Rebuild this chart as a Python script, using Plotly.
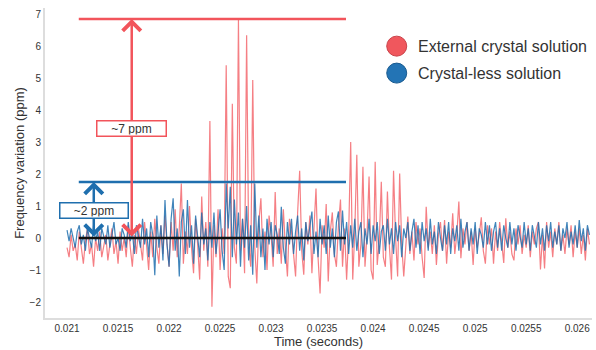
import numpy as np
import plotly.graph_objects as go

# ---------------- data ----------------
T0 = 0.021
DT = 0.00002

red_values = [
    -0.3, -0.6, 0.1, -0.4, -0.2, -0.7, 0.2, -0.3, -0.8, -0.1,
    0.3, -0.5, -0.2, -0.9, 0.0, -0.4, 0.2, -0.6, -0.3, 0.1,
    -0.7, -0.2, 0.3, -0.5, -0.1, -0.8, 0.2, -0.4, 0.0, -0.6,
    0.4, -0.3, -0.9, 0.1, -0.5, 0.3, -0.2, -0.7, 0.5, -0.4,
    -1.0, 0.2, -0.6, 0.6, -0.3, -0.8, 0.4, -0.5, 0.7, -0.2,
    -0.9, 0.5, -0.4, 0.9, -0.6, 0.3, 1.7, -0.8, 0.2, -0.5,
    1.0, -0.3, -1.1, 0.6, -0.2, -1.3, 1.3, -0.4, 0.5, -0.9,
    3.66, -2.15, 0.4, -0.6, 0.9, -1.0, 0.3, -0.5, 5.4, -1.2,
    -1.57, 4.2, -0.3, -0.8, 6.84, -0.4, 0.6, -1.1, 6.34, -0.2,
    -0.9, 4.94, -0.3, -1.42, 0.5, 1.24, -0.6, 0.2, -1.0, 0.7,
    0.1, -0.9, 1.44, -0.5, 0.3, -0.8, 0.9, -0.3, -1.2, 0.6,
    0.2, -0.5, -1.2, 0.8, 2.1, -0.4, -1.15, 0.5, -0.2, 0.7,
    -1.1, 0.3, 1.55, -0.6, -1.73, 0.4, -0.3, 1.06, -1.36, 0.2,
    0.8, -0.5, -0.9, 0.4, 1.2, -0.9, 0.3, -1.3, 0.1, 3.0,
    -1.3, 0.2, 2.6, -0.9, -0.2, 2.23, -0.9, 0.1, 1.92, -1.0,
    -1.3, 2.38, -0.84, -0.1, 1.76, -0.6, -0.9, 1.45, -0.3, -1.3,
    2.1, 0.0, -1.2, 2.02, -0.2, -1.2, -0.3, 0.67, -0.5, 0.2,
    -0.7, 0.5, -0.2, 0.3, -0.6, -1.25, 0.98, -0.3, 0.2, -0.5,
    0.4, -0.84, 0.1, 0.5, -0.4, 0.56, -0.8, 0.2, -0.3, 0.77,
    -0.5, 0.1, 1.14, -0.63, 0.3, -0.2, 0.5, -0.4, 0.2, -0.84,
    0.3, -0.3, 0.1, 0.65, -0.4, -0.8, 0.4, -0.2, 0.3, -0.8,
    0.2, -0.4, 0.5, -0.1, -0.78, 0.62, -0.3, 0.2, -0.5, -0.7,
    0.3, -0.2, 0.4, -0.5, 0.1, -0.3, 0.4, -0.6, 0.2, -0.2,
    0.3, 0.5, -0.98, 0.1, -0.95, 0.5, -0.3, 0.2, -0.6, 0.3,
    -0.2, 0.5, -0.4, 0.1, -0.5, 0.3, -0.2, 0.4, -0.6, 0.2,
    -0.3, 0.3, -0.5, 0.1, -0.7, 0.3, -0.2,
]

blue_values = [
    0.25, -0.1, 0.3, 0.0, -0.3, 0.2, 0.4, -0.2, 0.1, -0.4,
    0.3, 0.0, -0.3, 0.4, -0.1, 0.2, -0.4, 0.3, 0.0, -0.2,
    0.4, -0.3, 0.1, 0.5, -0.2, 0.0, -0.4, 0.3, 0.1, -0.3,
    0.5, -0.1, 0.2, -0.5, 0.4, 0.0, -0.3, 0.6, -0.2, 0.3,
    -0.6, 0.5, 0.1, -1.16, 0.7, -0.3, 0.4, -0.7, 1.19, -0.2,
    -0.9, 0.6, 1.24, -0.4, 0.3, -1.2, 0.5, 0.9, -0.5, 1.19,
    -0.3, 0.4, -0.8, 0.7, 0.1, -0.6, 0.8, -0.2, 0.3, -0.7,
    0.5, -0.3, 0.8, -0.5, 0.2, 0.9, -0.4, -1.0, 1.7, 0.3,
    1.6, -0.6, 1.2, -0.2, 0.8, -0.9, 0.6, -0.3, 1.0, -0.7,
    0.4, -1.15, 1.7, -0.3, 0.7, -0.6, 0.3, -1.0, 0.6, -0.2,
    0.5, -0.6, 0.4, 0.1, -0.5, 0.98, -0.3, -0.8, 0.5, -0.2,
    0.6, -0.5, 0.2, 0.7, -0.4, 0.3, -0.7, 0.5, -0.1, 0.4,
    0.83, -0.5, 0.2, -0.6, 0.6, -0.2, 0.4, -0.5, 0.7, -0.3,
    0.3, -0.6, 0.5, 0.83, -0.4, 0.86, -0.2, 0.5, -0.5, 0.4,
    -0.3, 0.6, -0.4, 0.2, 0.5, -0.6, 0.3, -0.2, 0.6, -0.5,
    0.4, -0.1, 0.5, -0.5, 0.2, 0.4, -0.4, 0.6, -0.2, 0.3,
    -0.5, 0.5, -0.1, 0.4, -0.6, 0.3, 0.0, 0.5, -0.4, 0.2,
    0.6, -0.3, 0.4, -0.5, 0.5, -0.1, 0.3, -0.4, 0.6, -0.2,
    0.2, -0.5, 0.5, 0.0, -0.4, 0.4, -0.2, 0.5, -0.5, 0.3,
    -0.1, 0.4, -0.4, 0.6, -0.3, 0.2, 0.5, -0.4, 0.3, -0.2,
    0.5, -0.5, 0.3, 0.1, -0.3, 0.5, -0.2, 0.4, -0.4, 0.2,
    0.5, -0.3, 0.3, -0.4, 0.4, 0.0, -0.3, 0.5, -0.2, 0.3,
    -0.4, 0.4, 0.1, -0.3, 0.5, -0.2, 0.3, -0.4, 0.4, 0.0,
    -0.3, 0.5, -0.2, 0.3, -0.4, 0.4, -0.1, 0.5, -0.3, 0.2,
    -0.2, 0.4, -0.4, 0.3, 0.0, 0.5, -0.3, 0.2, -0.2, 0.4,
    -0.3, 0.56, -0.1, 0.3, -0.4, 0.4, 0.1,
]

x_tick_vals = [0.021, 0.0215, 0.022, 0.0225, 0.023, 0.0235, 0.024, 0.0245, 0.025, 0.0255, 0.026]
x_tick_text = ["0.021", "0.0215", "0.022", "0.0225", "0.023", "0.0235", "0.024", "0.0245", "0.025", "0.0255", "0.026"]
y_tick_vals = [-2, -1, 0, 1, 2, 3, 4, 5, 6, 7]

series_names = ["External crystal solution", "Crystal-less solution"]

# annotation levels (ppm) and spans (s)
red_level = 6.85
blue_level = 1.75
base_level = 0.0
span_start = 0.021115
span_end = 0.023734
red_arrow_t = 0.021634
blue_arrow_t = 0.021262
red_label = "~7 ppm"
blue_label = "~2 ppm"

# ---------------- figure ----------------
RED = "#f2545b"
BLUE = "#1f6fae"
FONT = "Liberation Sans, Arial, Helvetica, sans-serif"

t_red = T0 + DT * np.arange(len(red_values))
t_blue = T0 + DT * np.arange(len(blue_values))

fig = go.Figure()
fig.add_trace(go.Scatter(x=t_red, y=red_values, mode="lines", name=series_names[0],
                         line=dict(color="rgba(242,84,91,0.75)", width=1.2), showlegend=False))
fig.add_trace(go.Scatter(x=t_blue, y=blue_values, mode="lines", name=series_names[1],
                         line=dict(color="rgba(31,111,174,0.85)", width=1.2), showlegend=False))

shapes = [
    dict(type="line", xref="x", yref="y", x0=span_start, x1=span_end, y0=red_level, y1=red_level,
         line=dict(color=RED, width=2.5)),
    dict(type="line", xref="x", yref="y", x0=span_start, x1=span_end, y0=blue_level, y1=blue_level,
         line=dict(color=BLUE, width=2.5)),
    dict(type="line", xref="x", yref="y", x0=span_start, x1=span_end, y0=base_level, y1=base_level,
         line=dict(color="#111111", width=2.5)),
]
# legend circles
legend_x = 0.643
legend_ys = [0.877, 0.790]
legend_fill = ["#f0575d", "#2374b5"]
legend_edge = ["#c9434a", "#195a8f"]
for ly, fc, ec in zip(legend_ys, legend_fill, legend_edge):
    shapes.append(dict(type="circle", xref="paper", yref="paper",
                       xsizemode="pixel", ysizemode="pixel",
                       xanchor=legend_x, yanchor=ly, x0=-10, x1=10, y0=-10, y1=10,
                       fillcolor=fc, line=dict(color=ec, width=1)))

annotations = [
    dict(x=red_arrow_t, y=red_level, ax=red_arrow_t, ay=base_level, xref="x", yref="y",
         axref="x", ayref="y", text="", showarrow=True, arrowhead=4, startarrowhead=4,
         arrowside="end+start", arrowsize=1.4, startarrowsize=1.4, arrowwidth=2.5, arrowcolor=RED,
         standoff=0, startstandoff=0),
    dict(x=blue_arrow_t, y=blue_level, ax=blue_arrow_t, ay=base_level, xref="x", yref="y",
         axref="x", ayref="y", text="", showarrow=True, arrowhead=4, startarrowhead=4,
         arrowside="end+start", arrowsize=1.4, startarrowsize=1.4, arrowwidth=2.5, arrowcolor=BLUE,
         standoff=0, startstandoff=0),
    dict(x=red_arrow_t, y=3.41, xref="x", yref="y", text=red_label, showarrow=False,
         font=dict(family=FONT, size=12, color="#333333"), bgcolor="white",
         bordercolor=RED, borderwidth=1.5, borderpad=1, width=66, height=12),
    dict(x=blue_arrow_t, y=0.86, xref="x", yref="y", text=blue_label, showarrow=False,
         font=dict(family=FONT, size=12, color="#333333"), bgcolor="white",
         bordercolor=BLUE, borderwidth=1.5, borderpad=1, width=65, height=12),
]
for ly, name in zip(legend_ys, series_names):
    annotations.append(dict(x=0.678, y=ly, xref="paper", yref="paper", xanchor="left",
                            yanchor="middle", text=name, showarrow=False,
                            font=dict(family=FONT, size=16, color="#333333")))

axis_common = dict(showline=True, linecolor="#dddddd", linewidth=2, showgrid=False,
                   zeroline=False, ticks="", tickfont=dict(family=FONT, size=10, color="#333333"),
                   automargin=False, ticklabeloverflow="allow")

fig.update_layout(
    width=596, height=350,
    margin=dict(l=45, r=4, t=8, b=32),
    plot_bgcolor="white", paper_bgcolor="white",
    font=dict(family=FONT, color="#333333"),
    shapes=shapes, annotations=annotations, showlegend=False,
    xaxis=dict(range=[0.020784, 0.026145], tickvals=x_tick_vals, ticktext=x_tick_text,
               title=dict(text="Time (seconds)", font=dict(family=FONT, size=13, color="#333333"),
                          standoff=0),
               **axis_common),
    yaxis=dict(range=[-2.5, 7.19], tickvals=y_tick_vals,
               title=dict(text="Frequency variation (ppm)",
                          font=dict(family=FONT, size=13, color="#333333"), standoff=2),
               **axis_common),
)

# remove the default page margin so the 596x350 figure fills the window exactly
fig.write_html("out.html",
               config={"displayModeBar": False},
               post_script="document.body.style.margin='0';document.body.style.overflow='hidden';")
